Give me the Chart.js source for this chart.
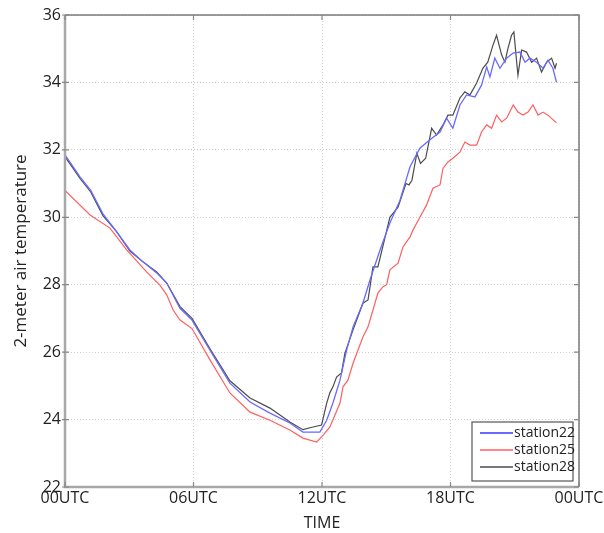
<!DOCTYPE html>
<html>
<head>
<meta charset="utf-8">
<title>2-meter air temperature</title>
<script src="https://cdn.jsdelivr.net/npm/chart.js@4.4.0/dist/chart.umd.min.js"></script>
<style>
    html, body { margin: 0; padding: 0; background: #fff; }
    #wrap { width: 604px; height: 533px; }
</style>
</head>
<body>
<div id="wrap"><canvas id="tempChart" width="604" height="533"></canvas></div>
<script>
// axis ticks
const hourTicks = [0, 6, 12, 18, 24];
const hourLabels = ['00UTC', '06UTC', '12UTC', '18UTC', '00UTC'];
const tempMin = 22;
const tempMax = 36;
const tempStep = 2;

// station22 (blue)
const station22Hours = [0, 0.7, 1.2, 1.77, 2.38, 3.03, 3.6, 4.28, 4.75, 5.37, 5.93, 6.77, 7.7, 8.64, 9.57, 10.5, 11.11, 11.9,
    12.22, 12.51, 12.84, 13.15, 13.45, 13.91, 14.24, 14.71, 15.17, 15.64, 16.11, 16.57, 17.04, 17.51, 17.82, 18.11,
    18.44, 18.75, 19.14, 19.45, 19.69, 19.84, 20.07, 20.31, 20.62, 20.92, 21.24, 21.48, 21.71, 22.02, 22.32, 22.55, 22.78, 22.95];
const station22Temps = [31.85, 31.2, 30.8, 30.1, 29.6, 29.03, 28.7, 28.35, 28.05, 27.3, 26.95, 26.06, 25.08, 24.52, 24.19, 23.9, 23.63, 23.63,
    23.98, 24.49, 25.17, 26.06, 26.75, 27.45, 28.14, 29.03, 29.83, 30.5, 31.5, 32.05, 32.3, 32.53, 32.94, 32.64,
    33.33, 33.63, 33.57, 33.92, 34.46, 34.16, 34.72, 34.42, 34.72, 34.87, 34.9, 34.6, 34.72, 34.6, 34.42, 34.66, 34.42, 34.0];

// station25 (red)
const station25Hours = [0, 1.17, 2.1, 2.88, 3.81, 4.43, 4.75, 5.05, 5.37, 5.93, 6.77, 7.7, 8.64, 9.57, 10.5, 11.11, 11.75,
    12.05, 12.37, 12.84, 12.98, 13.21, 13.45, 13.91, 14.15, 14.38, 14.61, 14.85, 15.02, 15.17, 15.55, 15.78, 16.11, 16.25,
    16.45, 16.88, 17.18, 17.51, 17.65, 17.88, 18.11, 18.44, 18.67, 18.91, 19.22, 19.45, 19.69, 19.92, 20.15, 20.39, 20.62,
    20.93, 21.15, 21.38, 21.62, 21.85, 22.09, 22.32, 22.55, 22.95];
const station25Temps = [30.8, 30.07, 29.68, 29.03, 28.38, 27.99, 27.7, 27.25, 26.95, 26.7, 25.77, 24.79, 24.22, 23.98, 23.69, 23.45, 23.33,
    23.54, 23.78, 24.49, 24.97, 25.17, 25.67, 26.45, 26.75, 27.25, 27.75, 27.94, 28.0, 28.44, 28.64, 29.12, 29.42, 29.62,
    29.86, 30.36, 30.86, 30.96, 31.45, 31.64, 31.75, 31.93, 32.23, 32.14, 32.14, 32.53, 32.74, 32.64, 33.03, 32.83, 32.94,
    33.33, 33.12, 33.03, 33.12, 33.33, 33.03, 33.12, 33.03, 32.8];

// station28 (black)
const station28Hours = [0, 0.7, 1.2, 1.77, 2.38, 3.03, 3.6, 4.28, 4.75, 5.37, 5.93, 6.77, 7.7, 8.64, 9.57, 10.5, 11.11, 11.58, 11.98,
    12.22, 12.37, 12.51, 12.68, 12.91, 13.07, 13.45, 13.91, 14.15, 14.38, 14.61, 15.17, 15.55, 15.92, 16.06, 16.2, 16.43, 16.6,
    16.84, 17.12, 17.35, 17.65, 17.88, 18.11, 18.44, 18.67, 18.91, 19.22, 19.51, 19.74, 19.98, 20.15, 20.39, 20.54, 20.68,
    20.85, 20.96, 21.09, 21.15, 21.32, 21.55, 21.79, 22.02, 22.25, 22.49, 22.72, 22.88, 22.95];
const station28Temps = [31.8, 31.15, 30.75, 30.05, 29.6, 29.0, 28.7, 28.38, 28.05, 27.35, 27.0, 26.1, 25.15, 24.64, 24.34, 23.93, 23.7, 23.78, 23.84,
    24.49, 24.8, 24.97, 25.26, 25.38, 25.97, 26.66, 27.45, 27.55, 28.53, 28.53, 30.0, 30.3, 31.0, 30.96, 31.1, 31.9, 31.6,
    31.75, 32.64, 32.44, 32.74, 33.03, 33.03, 33.54, 33.72, 33.63, 33.98, 34.42, 34.6, 35.1, 35.4, 34.81, 34.6, 35.0,
    35.4, 35.5, 34.6, 34.22, 34.96, 34.9, 34.6, 34.72, 34.31, 34.6, 34.72, 34.42, 34.57];

function toPoints(hours, temps) {
    return hours.map((h, i) => ({ x: h, y: temps[i] }));
}

// MATLAB style box + inward tick marks
const framePlugin = {
    id: 'frame',
    afterDatasetsDraw(chart) {
        const { ctx, chartArea: a, scales } = chart;
        ctx.save();
        ctx.lineCap = 'butt';
        // left + bottom (light, thick)
        ctx.strokeStyle = '#a8a8a8';
        ctx.lineWidth = 2.5;
        ctx.beginPath();
        ctx.moveTo(a.left, a.top);
        ctx.lineTo(a.left, a.bottom);
        ctx.lineTo(a.right, a.bottom);
        ctx.stroke();
        // top + right (darker, thin)
        ctx.strokeStyle = '#7a7a7a';
        ctx.lineWidth = 1.5;
        ctx.beginPath();
        ctx.moveTo(a.left, a.top);
        ctx.lineTo(a.right, a.top);
        ctx.lineTo(a.right, a.bottom);
        ctx.stroke();
        // tick marks
        ctx.strokeStyle = '#888';
        ctx.lineWidth = 1.2;
        ctx.beginPath();
        scales.y.ticks.forEach(t => {
            const y = scales.y.getPixelForValue(t.value);
            ctx.moveTo(a.left - 3, y); ctx.lineTo(a.left + 4, y);
            ctx.moveTo(a.right - 5, y); ctx.lineTo(a.right, y);
        });
        scales.x.ticks.forEach(t => {
            const x = scales.x.getPixelForValue(t.value);
            ctx.moveTo(x, a.bottom); ctx.lineTo(x, a.bottom - 5);
            ctx.moveTo(x, a.top); ctx.lineTo(x, a.top + 5);
        });
        ctx.stroke();
        ctx.restore();
    }
};

// legend box in the lower right corner of the axes
const boxLegendPlugin = {
    id: 'boxLegend',
    afterDraw(chart) {
        const { ctx, chartArea: a } = chart;
        const w = 101, h = 59;
        const right = a.right - 6, bottom = a.bottom - 6;
        const left = right - w, top = bottom - h;
        ctx.save();
        ctx.fillStyle = '#fff';
        ctx.fillRect(left, top, w, h);
        ctx.strokeStyle = '#555';
        ctx.lineWidth = 1.2;
        ctx.strokeRect(left, top, w, h);
        ctx.font = '14px "Open Sans", sans-serif';
        ctx.textBaseline = 'middle';
        ctx.textAlign = 'left';
        chart.data.datasets.forEach((ds, i) => {
            const y = top + 11 + i * 17;
            ctx.strokeStyle = ds.borderColor;
            ctx.lineWidth = i === 0 ? 2 : 1.5;
            ctx.beginPath();
            ctx.moveTo(left + 8, y);
            ctx.lineTo(left + 41, y);
            ctx.stroke();
            ctx.fillStyle = '#222';
            ctx.fillText(ds.label, left + 42, y);
        });
        ctx.restore();
    }
};

const ctx = document.getElementById('tempChart').getContext('2d');

new Chart(ctx, {
    type: 'line',
    data: {
        datasets: [
            {
                label: 'station22',
                data: toPoints(station22Hours, station22Temps),
                borderColor: 'rgb(105, 105, 255)',
                borderWidth: 1.3,
                pointRadius: 0,
                tension: 0
            },
            {
                label: 'station25',
                data: toPoints(station25Hours, station25Temps),
                borderColor: 'rgb(255, 95, 95)',
                borderWidth: 1.2,
                pointRadius: 0,
                tension: 0
            },
            {
                label: 'station28',
                data: toPoints(station28Hours, station28Temps),
                borderColor: 'rgb(75, 75, 75)',
                borderWidth: 1.2,
                pointRadius: 0,
                tension: 0
            }
        ]
    },
    options: {
        responsive: false,
        animation: false,
        layout: {
            padding: { top: 15, right: 25, left: 0, bottom: 0 }
        },
        plugins: {
            legend: { display: false },
            tooltip: { enabled: false }
        },
        scales: {
            x: {
                type: 'linear',
                min: 0,
                max: 24,
                afterFit(scale) {
                    scale.height = 46;
                    scale.paddingLeft = 0;
                    scale.paddingRight = 0;
                },
                ticks: {
                    stepSize: 6,
                    autoSkip: false,
                    maxRotation: 0,
                    padding: 2,
                    color: '#222',
                    font: { family: '"Open Sans", sans-serif', size: 16 },
                    callback: (v) => hourLabels[hourTicks.indexOf(v)]
                },
                grid: {
                    color: '#cfcfcf',
                    drawTicks: false
                },
                border: { display: false, dash: [1, 2] },
                title: {
                    display: true,
                    text: 'TIME',
                    color: '#222',
                    padding: { top: 0, bottom: 0 },
                    font: { family: '"Open Sans", sans-serif', size: 16 }
                }
            },
            y: {
                min: tempMin,
                max: tempMax,
                afterFit(scale) {
                    scale.width = 65;
                    scale.paddingTop = 0;
                    scale.paddingBottom = 0;
                },
                ticks: {
                    stepSize: tempStep,
                    padding: 4,
                    color: '#222',
                    font: { family: '"Open Sans", sans-serif', size: 16 }
                },
                grid: {
                    color: '#cfcfcf',
                    drawTicks: false
                },
                border: { display: false, dash: [1, 2] },
                title: {
                    display: true,
                    text: '2-meter air temperature',
                    color: '#222',
                    padding: { top: 11, bottom: 0 },
                    font: { family: '"Open Sans", sans-serif', size: 17 }
                }
            }
        }
    },
    plugins: [framePlugin, boxLegendPlugin]
});
</script>
</body>
</html>
